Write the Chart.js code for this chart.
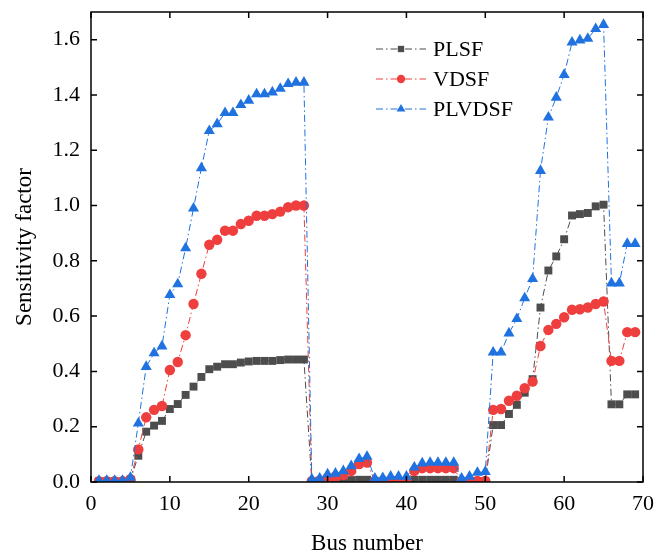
<!DOCTYPE html>
<html>
<head>
<meta charset="utf-8">
<script src="https://cdn.jsdelivr.net/npm/chart.js@4"></script>
<style>
  html, body { margin: 0; padding: 0; background: #fff; }
  #wrap { width: 670px; height: 555px; }
</style>
</head>
<body>
<div id="wrap"><canvas id="chart" width="670" height="555"></canvas></div>
<script>
// bus numbers
var buses = [1,2,3,4,5,6,7,8,9,10,11,12,13,14,15,16,17,18,19,20,21,22,23,24,25,26,27,28,29,30,
  31,32,33,34,35,36,37,38,39,40,41,42,43,44,45,46,47,48,49,50,51,52,53,54,55,56,57,58,59,60,
  61,62,63,64,65,66,67,68,69];

// sensitivity factors
var plsf = [0.002,0.002,0.002,0.002,0.008,0.095,0.182,0.204,0.221,0.264,
  0.282,0.315,0.345,0.380,0.408,0.417,0.426,0.426,0.432,0.436,
  0.438,0.438,0.438,0.441,0.443,0.443,0.443,0.002,0.002,0.002,
  0.003,0.006,0.007,0.008,0.008,0.002,0.002,0.002,0.002,0.002,
  0.008,0.008,0.008,0.008,0.008,0.008,0.002,0.002,0.002,0.003,
  0.206,0.206,0.246,0.279,0.323,0.372,0.631,0.765,0.816,0.878,
  0.964,0.969,0.973,0.997,1.003,0.281,0.281,0.317,0.317];

var vdsf = [0.003,0.003,0.003,0.003,0.010,0.118,0.234,0.261,0.275,0.405,
  0.434,0.531,0.644,0.753,0.858,0.876,0.909,0.909,0.933,0.945,
  0.963,0.963,0.969,0.978,0.994,1.000,1.000,0.003,0.006,0.015,
  0.020,0.025,0.040,0.065,0.070,0.004,0.004,0.004,0.004,0.004,
  0.040,0.050,0.050,0.050,0.050,0.050,0.003,0.003,0.004,0.004,
  0.261,0.264,0.294,0.312,0.339,0.363,0.492,0.550,0.572,0.596,
  0.623,0.625,0.631,0.644,0.653,0.438,0.438,0.542,0.542];

var plvdsf = [0.005,0.005,0.005,0.005,0.016,0.212,0.417,0.466,0.491,0.677,
  0.716,0.846,0.990,1.136,1.270,1.295,1.335,1.335,1.364,1.380,
  1.403,1.403,1.410,1.423,1.440,1.445,1.445,0.010,0.013,0.028,
  0.031,0.040,0.058,0.084,0.092,0.013,0.015,0.020,0.020,0.020,
  0.053,0.068,0.070,0.070,0.070,0.070,0.013,0.020,0.034,0.037,
  0.469,0.469,0.538,0.590,0.665,0.735,1.126,1.319,1.391,1.473,
  1.590,1.598,1.604,1.639,1.654,0.719,0.719,0.862,0.862];

var xTicks = [0, 10, 20, 30, 40, 50, 60, 70];
var yTicks = [0, 0.2, 0.4, 0.6, 0.8, 1.0, 1.2, 1.4, 1.6];

var FONT = "'Liberation Serif', 'Times New Roman', serif";
var DASH = [7, 3, 1.5, 3];

function pts(vals) {
  return buses.map(function (b, i) { return { x: b, y: vals[i] }; });
}

function makeSet(label, vals, color, style, radius, order) {
  return {
    label: label,
    data: pts(vals),
    borderColor: color,
    backgroundColor: color,
    borderWidth: 1,
    borderDash: DASH,
    pointStyle: style,
    pointRadius: radius,
    pointHoverRadius: radius,
    pointBorderWidth: 0,
    tension: 0,
    order: order
  };
}

// frame with inward ticks on all four sides
var framePlugin = {
  id: 'frame',
  afterDraw: function (chart) {
    var ctx = chart.ctx, a = chart.chartArea;
    var xs = chart.scales.x, ys = chart.scales.y;
    var len = 6;
    ctx.save();
    ctx.strokeStyle = '#000';
    ctx.lineWidth = 1.5;
    ctx.strokeRect(a.left, a.top, a.right - a.left, a.bottom - a.top);
    ctx.beginPath();
    xTicks.forEach(function (v) {
      var px = xs.getPixelForValue(v);
      ctx.moveTo(px, a.bottom); ctx.lineTo(px, a.bottom - len);
      ctx.moveTo(px, a.top); ctx.lineTo(px, a.top + len);
    });
    yTicks.forEach(function (v) {
      var py = ys.getPixelForValue(v);
      ctx.moveTo(a.left, py); ctx.lineTo(a.left + len, py);
      ctx.moveTo(a.right, py); ctx.lineTo(a.right - len, py);
    });
    ctx.stroke();
    ctx.restore();
  }
};

// legend: dash-dot line with marker in the middle
var legendPlugin = {
  id: 'lineLegend',
  afterDraw: function (chart) {
    var ctx = chart.ctx;
    var x0 = 376, x1 = 426, tx = 433, y0 = 49, gap = 30;
    chart.data.datasets.forEach(function (ds, i) {
      var y = y0 + i * gap;
      ctx.save();
      ctx.strokeStyle = ds.borderColor;
      ctx.lineWidth = 1;
      ctx.setLineDash(DASH);
      ctx.beginPath();
      ctx.moveTo(x0, y); ctx.lineTo(x1, y);
      ctx.stroke();
      ctx.setLineDash([]);
      ctx.fillStyle = ds.backgroundColor;
      Chart.helpers.drawPoint(ctx, { pointStyle: ds.pointStyle, radius: ds.pointRadius * 0.8, borderWidth: 0 }, (x0 + x1) / 2, y);
      ctx.fillStyle = '#000';
      ctx.font = '22px ' + FONT;
      ctx.textBaseline = 'middle';
      ctx.fillText(ds.label, tx, y + 1);
      ctx.restore();
    });
  }
};

var ctx = document.getElementById('chart').getContext('2d');
var chart = new Chart(ctx, {
  type: 'line',
  data: {
    datasets: [
      makeSet('PLSF', plsf, '#4d4d4d', 'rect', 5.6, 3),
      makeSet('VDSF', vdsf, '#ef3e3e', 'circle', 5.2, 2),
      makeSet('PLVDSF', plvdsf, '#1f72e0', 'triangle', 6.4, 1)
    ]
  },
  options: {
    responsive: false,
    animation: false,
    layout: { padding: { top: 12, right: 27, left: 0, bottom: 0 } },
    plugins: {
      legend: { display: false },
      tooltip: { enabled: false }
    },
    scales: {
      x: {
        type: 'linear',
        min: 0,
        max: 70,
        afterBuildTicks: function (s) { s.ticks = xTicks.map(function (v) { return { value: v }; }); },
        afterFit: function (s) { s.height = 73; s.paddingLeft = 0; s.paddingRight = 0; },
        grid: { display: false, drawTicks: false },
        border: { display: false },
        ticks: { color: '#000', padding: 9, maxRotation: 0, font: { family: FONT, size: 22 } },
        title: {
          display: true, text: 'Bus number', color: '#000',
          padding: { top: 0, bottom: 0 },
          font: { family: FONT, size: 23, lineHeight: 1 }
        }
      },
      y: {
        min: 0,
        max: 1.7,
        afterBuildTicks: function (s) { s.ticks = yTicks.map(function (v) { return { value: v }; }); },
        afterFit: function (s) { s.width = 91; s.paddingTop = 0; s.paddingBottom = 0; },
        grid: { display: false, drawTicks: false },
        border: { display: false },
        ticks: {
          color: '#000', padding: 11, font: { family: FONT, size: 22 },
          callback: function (v) { return Number(v).toFixed(1); }
        },
        title: {
          display: true, text: 'Sensitivity factor', color: '#000',
          padding: { top: 13, bottom: 0 },
          font: { family: FONT, size: 23, lineHeight: 1 }
        }
      }
    }
  },
  plugins: [framePlugin, legendPlugin]
});
</script>
</body>
</html>
